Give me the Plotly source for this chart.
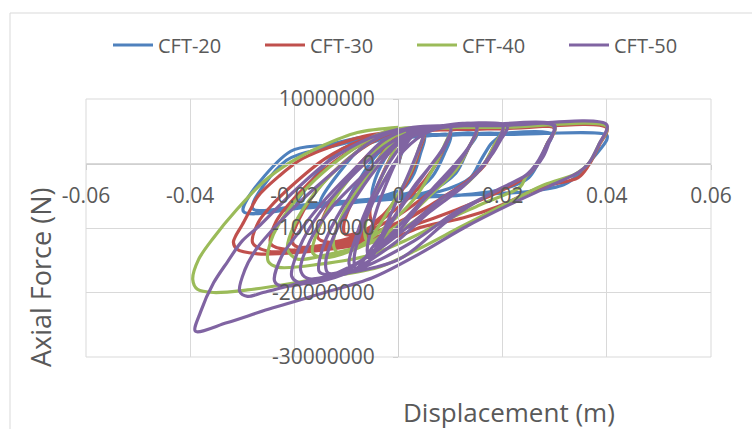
import plotly.graph_objects as go

# ---- data: (displacement m, axial force N) ----
cft20_points = [
    (0.0, 0.0),
    (0.002, 3.8e6), (0.005, 4.3e6), (0.0042, 1.5e6), (0.003, -1.5e6), (0.001, -3.8e6),
    (-0.002, -4.8e6), (-0.005, -5.2e6), (-0.0045, -2.5e6), (-0.002, 1.5e6), (0.001, 3.8e6),
    (0.006, 4.3e6), (0.010, 4.4e6), (0.0088, 1.5e6), (0.0065, -2.0e6), (0.003, -4.3e6),
    (-0.003, -5.2e6), (-0.0095, -5.9e6), (-0.0075, -2.5e6), (-0.004, 1.5e6), (0.0, 3.8e6),
    (0.008, 4.4e6), (0.015, 4.5e6), (0.0135, 2.5e6), (0.011, -1.5e6), (0.006, -4.3e6),
    (0.0, -5.2e6), (-0.008, -5.9e6), (-0.015, -6.3e6), (-0.011, -1.0e6), (-0.007, 2.5e6),
    (-0.002, 4.0e6), (0.002, 4.3e6),
    (0.010, 4.4e6), (0.0195, 4.5e6), (0.0177, 3.0e6), (0.0158, 0.5e6), (0.0138, -2.2e6),
    (0.008, -4.3e6), (0.002, -5.0e6), (-0.008, -5.8e6), (-0.0195, -6.6e6), (-0.0155, -1.5e6),
    (-0.011, 2.2e6), (-0.005, 3.8e6), (0.0, 4.3e6),
    (0.015, 4.5e6), (0.0295, 4.5e6), (0.0283, 2.5e6), (0.0268, 0.0), (0.025, -2.2e6),
    (0.020, -4.0e6), (0.012, -4.9e6), (0.003, -5.3e6), (-0.008, -6.0e6), (-0.018, -6.8e6),
    (-0.0298, -7.4e6), (-0.0207, 1.9e6), (-0.0136, 2.9e6), (-0.0073, 4.0e6), (0.0, 4.4e6),
    (0.020, 4.5e6), (0.040, 4.4e6), (0.040, 3.7e6), (0.0375, 1.0e6), (0.035, -1.4e6),
    (0.0317, -3.3e6), (0.0253, -4.3e6), (0.0157, -4.8e6), (0.003, -5.1e6), (-0.008, -5.7e6),
    (-0.018, -6.4e6), (-0.028, -7.0e6), (-0.0215, 0.5e6), (-0.0136, 2.5e6), (-0.006, 3.8e6),
    (0.0, 4.3e6),
]

cft30_points = [
    (0.0, 0.0),
    (0.002, 4.5e6), (0.005, 5.0e6), (0.004, 2.0e6), (0.0025, -1.5e6), (0.0, -5.0e6),
    (-0.003, -8.0e6), (-0.005, -9.0e6), (-0.0055, -7.5e6), (-0.004, -3.5e6), (-0.0015, 1.0e6),
    (0.001, 4.5e6),
    (0.006, 5.1e6), (0.010, 5.2e6), (0.0088, 2.5e6), (0.0065, -1.0e6), (0.003, -4.5e6),
    (-0.002, -8.0e6), (-0.007, -10.5e6), (-0.0102, -11.0e6), (-0.0105, -9.5e6), (-0.008, -4.5e6),
    (-0.004, 0.5e6), (0.0, 4.5e6),
    (0.008, 5.2e6), (0.015, 5.3e6), (0.0135, 2.5e6), (0.011, -1.0e6), (0.006, -4.5e6),
    (0.0, -8.0e6), (-0.008, -11.2e6), (-0.0135, -12.2e6), (-0.0155, -11.5e6), (-0.014, -7.5e6),
    (-0.010, -2.5e6), (-0.005, 2.0e6), (0.0, 4.8e6),
    (0.010, 5.2e6), (0.020, 5.3e6), (0.0185, 3.0e6), (0.0165, 0.0), (0.0135, -2.5e6),
    (0.008, -5.5e6), (0.002, -8.5e6), (-0.006, -11.3e6), (-0.014, -12.6e6), (-0.0195, -12.9e6),
    (-0.0205, -12.0e6), (-0.019, -8.5e6), (-0.015, -3.5e6), (-0.010, 0.5e6), (-0.004, 3.8e6),
    (0.0, 5.0e6),
    (0.010, 5.3e6), (0.020, 5.3e6), (0.0187, 2.8e6), (0.0165, -0.3e6), (0.012, -3.5e6),
    (0.005, -7.0e6), (-0.004, -10.5e6), (-0.014, -12.8e6), (-0.021, -13.4e6), (-0.0245, -12.5e6),
    (-0.0235, -9.0e6), (-0.019, -4.5e6), (-0.012, 0.5e6), (-0.005, 3.8e6), (0.0, 5.0e6),
    (0.015, 5.3e6), (0.030, 5.4e6), (0.0285, 3.0e6), (0.0268, 0.0), (0.0245, -2.0e6),
    (0.019, -4.5e6), (0.011, -7.2e6), (0.002, -9.8e6), (-0.008, -12.2e6), (-0.018, -13.3e6),
    (-0.025, -13.6e6), (-0.028, -12.3e6), (-0.0269, -9.1e6), (-0.0246, -6.7e6), (-0.0207, -3.6e6),
    (-0.014, 0.8e6), (-0.007, 3.6e6), (0.0, 5.0e6),
    (0.020, 5.4e6), (0.040, 5.5e6), (0.0385, 2.8e6), (0.0365, -0.3e6), (0.0345, -2.2e6),
    (0.0273, -3.7e6), (0.019, -6.7e6), (0.0125, -8.4e6), (0.0042, -9.9e6), (0.0, -11.2e6),
    (-0.0098, -12.9e6), (-0.0194, -13.8e6), (-0.027, -14.0e6), (-0.031, -13.3e6), (-0.0317, -12.2e6),
    (-0.0313, -11.3e6), (-0.030, -9.5e6), (-0.0284, -7.1e6), (-0.027, -5.1e6), (-0.023, -2.0e6),
    (-0.0188, 0.6e6), (-0.013, 2.6e6), (-0.0067, 4.2e6), (0.0, 5.1e6),
]

cft40_points = [
    (0.0, 0.0),
    (0.002, 4.8e6), (0.005, 5.3e6), (0.004, 2.5e6), (0.0022, -1.5e6), (-0.001, -6.0e6),
    (-0.004, -10.0e6), (-0.006, -12.0e6), (-0.0065, -10.5e6), (-0.005, -5.5e6), (-0.002, 0.0),
    (0.001, 4.5e6),
    (0.006, 5.4e6), (0.010, 5.5e6), (0.0088, 2.8e6), (0.0065, -1.0e6), (0.003, -5.5e6),
    (-0.002, -9.5e6), (-0.008, -13.0e6), (-0.0115, -14.0e6), (-0.0125, -12.5e6), (-0.0105, -7.5e6),
    (-0.006, -2.0e6), (-0.002, 2.5e6), (0.002, 5.0e6),
    (0.008, 5.5e6), (0.015, 5.6e6), (0.0135, 2.5e6), (0.011, -1.0e6), (0.006, -5.0e6),
    (0.0, -9.5e6), (-0.008, -13.2e6), (-0.0145, -14.6e6), (-0.0165, -13.8e6), (-0.015, -9.5e6),
    (-0.011, -4.0e6), (-0.005, 1.5e6), (0.001, 5.0e6),
    (0.010, 5.5e6), (0.020, 5.6e6), (0.0185, 3.0e6), (0.0165, 0.0), (0.0135, -2.8e6),
    (0.008, -6.0e6), (0.002, -9.5e6), (-0.006, -12.5e6), (-0.014, -14.2e6), (-0.0195, -14.8e6),
    (-0.0213, -13.3e6), (-0.020, -9.5e6), (-0.016, -4.5e6), (-0.010, 0.5e6), (-0.004, 4.0e6),
    (0.0, 5.3e6),
    (0.015, 5.6e6), (0.030, 5.6e6), (0.0285, 3.0e6), (0.0268, 0.0), (0.0245, -2.0e6),
    (0.0234, -3.6e6), (0.0157, -6.4e6), (0.0094, -8.7e6), (0.0017, -11.8e6), (-0.006, -14.3e6),
    (-0.015, -15.6e6), (-0.023, -16.1e6), (-0.025, -15.2e6), (-0.0245, -12.0e6), (-0.021, -7.0e6),
    (-0.016, -2.5e6), (-0.010, 1.5e6), (-0.004, 4.5e6), (0.0, 5.4e6),
    (0.020, 5.6e6), (0.040, 5.7e6), (0.0385, 3.0e6), (0.0365, 0.0), (0.034, -1.6e6),
    (0.028, -3.3e6), (0.020, -6.5e6), (0.012, -9.8e6), (0.004, -13.2e6), (-0.0035, -16.0e6),
    (-0.013, -17.5e6), (-0.0207, -18.6e6), (-0.029, -19.6e6), (-0.0355, -20.0e6), (-0.0386, -19.5e6),
    (-0.0395, -18.0e6), (-0.0384, -14.9e6), (-0.0355, -11.5e6), (-0.031, -7.1e6), (-0.026, -2.9e6),
    (-0.0207, 0.2e6), (-0.015, 2.6e6), (-0.0079, 4.8e6), (0.0, 5.6e6),
]

cft50_points = [
    (0.0, 0.0),
    (0.002, 5.0e6), (0.005, 5.4e6), (0.004, 2.5e6), (0.002, -1.5e6), (-0.001, -7.0e6),
    (-0.004, -12.5e6), (-0.0055, -14.8e6), (-0.006, -13.5e6), (-0.0045, -8.0e6), (-0.002, -2.5e6),
    (0.001, 2.5e6), (0.004, 5.2e6),
    (0.010, 5.6e6), (0.009, 3.0e6), (0.0065, 0.0), (0.003, -3.5e6), (-0.001, -8.5e6),
    (-0.005, -13.0e6), (-0.0086, -16.7e6), (-0.0095, -15.5e6), (-0.008, -11.0e6), (-0.005, -5.0e6),
    (-0.0015, 0.5e6), (0.003, 4.8e6), (0.008, 5.7e6),
    (0.010, 5.7e6), (0.0088, 2.5e6), (0.006, -0.5e6), (0.002, -5.0e6), (-0.002, -10.0e6),
    (-0.006, -15.5e6), (-0.0082, -16.2e6), (-0.0085, -14.5e6), (-0.0065, -9.0e6), (-0.003, -3.0e6),
    (0.001, 2.0e6), (0.006, 5.0e6),
    (0.0138, 6.0e6), (0.015, 5.7e6), (0.0138, 3.0e6), (0.011, 0.0), (0.007, -3.5e6),
    (0.002, -8.0e6), (-0.004, -13.0e6), (-0.010, -16.5e6), (-0.0135, -17.0e6), (-0.014, -15.5e6),
    (-0.012, -10.5e6), (-0.008, -5.0e6), (-0.003, 0.5e6), (0.002, 4.5e6), (0.008, 5.8e6),
    (0.015, 5.9e6), (0.0135, 2.5e6), (0.010, -1.5e6), (0.005, -5.5e6), (0.0, -10.5e6),
    (-0.007, -15.0e6), (-0.0125, -17.2e6), (-0.0152, -16.8e6), (-0.0145, -13.0e6), (-0.0105, -6.5e6),
    (-0.005, -0.5e6), (0.001, 4.0e6), (0.008, 5.8e6),
    (0.0209, 5.8e6), (0.0195, 3.5e6), (0.0182, 1.7e6), (0.0138, -2.5e6), (0.008, -5.6e6),
    (0.0023, -9.5e6), (-0.005, -14.0e6), (-0.013, -17.3e6), (-0.0175, -17.8e6), (-0.0188, -16.5e6),
    (-0.017, -12.0e6), (-0.013, -7.0e6), (-0.007, -2.0e6), (-0.001, 2.5e6), (0.006, 5.2e6),
    (0.013, 5.9e6),
    (0.020, 5.9e6), (0.0188, 3.0e6), (0.0165, 0.0), (0.0125, -3.5e6), (0.006, -7.5e6),
    (-0.001, -12.5e6), (-0.010, -17.0e6), (-0.0185, -18.6e6), (-0.0205, -17.5e6), (-0.019, -13.0e6),
    (-0.015, -7.5e6), (-0.009, -2.0e6), (-0.002, 3.0e6), (0.005, 5.5e6), (0.015, 5.9e6),
    (0.0298, 5.8e6), (0.0288, 3.0e6), (0.0278, 1.1e6), (0.0253, -1.4e6), (0.019, -4.2e6),
    (0.011, -7.5e6), (0.003, -12.0e6), (-0.008, -16.5e6), (-0.018, -18.6e6), (-0.0225, -19.0e6),
    (-0.0238, -18.2e6), (-0.0225, -14.5e6), (-0.019, -10.5e6), (-0.014, -5.5e6), (-0.008, -0.5e6),
    (-0.003, 3.5e6), (0.003, 5.5e6), (0.015, 5.9e6),
    (0.030, 5.9e6), (0.0285, 3.0e6), (0.0265, 0.0), (0.0245, -1.8e6), (0.018, -4.5e6),
    (0.010, -8.5e6), (0.0, -14.9e6), (-0.0163, -18.0e6), (-0.026, -20.0e6), (-0.029, -20.6e6),
    (-0.0305, -19.8e6), (-0.0295, -16.5e6), (-0.0275, -13.5e6), (-0.025, -11.0e6), (-0.019, -6.0e6),
    (-0.012, -1.0e6), (-0.005, 3.5e6), (0.002, 5.5e6), (0.020, 5.9e6),
    (0.040, 6.0e6), (0.0385, 3.0e6), (0.0365, 0.0), (0.0345, -1.4e6), (0.029, -3.5e6),
    (0.021, -6.5e6), (0.0125, -10.0e6), (0.004, -14.0e6), (-0.005, -17.7e6), (-0.015, -20.2e6),
    (-0.025, -22.6e6), (-0.033, -24.7e6), (-0.039, -26.0e6), (-0.038, -23.0e6), (-0.0355, -18.5e6),
    (-0.0328, -15.2e6), (-0.030, -12.0e6), (-0.0265, -9.5e6), (-0.0207, -4.8e6), (-0.013, 0.6e6),
    (-0.0054, 4.0e6), (0.0, 5.3e6),
]

series_names = ["CFT-20", "CFT-30", "CFT-40", "CFT-50"]
series_colors = ["#4F81BD", "#C0504D", "#9BBB59", "#8064A2"]

x_tick_vals = [-0.06, -0.04, -0.02, 0, 0.02, 0.04, 0.06]
x_tick_text = ["-0.06", "-0.04", "-0.02", "0", "0.02", "0.04", "0.06"]
y_tick_vals = [10000000, 0, -10000000, -20000000, -30000000]
y_tick_text = ["10000000", "0", "-10000000", "-20000000", "-30000000"]

x_title = "Displacement (m)"
y_title = "Axial Force (N)"

FONT = "Open Sans"
TXT = "#595959"
GRID = "#d9d9d9"

fig = go.Figure()
for name, color, pts in zip(series_names, series_colors,
                            [cft20_points, cft30_points, cft40_points, cft50_points]):
    xs, ys = zip(*pts)
    fig.add_trace(go.Scatter(
        x=list(xs), y=list(ys), mode="lines", name=name,
        line=dict(color=color, width=3.2, shape="spline", smoothing=0.9),
    ))

W, H = 752, 429
L, R, T, B = 86, 41, 99, 72
pw, ph = W - L - R, H - T - B

def px(xp):
    return (xp - L) / pw

def py(yp):
    return (H - B - yp) / ph

fig.update_layout(
    width=W, height=H,
    margin=dict(l=L, r=R, t=T, b=B, pad=0, autoexpand=False),
    paper_bgcolor="white", plot_bgcolor="white",
    font=dict(family=FONT, color=TXT, size=20),
    showlegend=True,
    legend=dict(orientation="h", x=px(108), xanchor="left", y=py(45), yanchor="middle",
                font=dict(size=20, color=TXT, family=FONT), bgcolor="rgba(0,0,0,0)",
                entrywidth=97, entrywidthmode="pixels", itemwidth=40),
    xaxis=dict(range=[-0.06, 0.06], tickvals=x_tick_vals, ticktext=x_tick_text,
               anchor="free", position=py(164), showgrid=True, gridcolor=GRID, gridwidth=1,
               zeroline=False, showline=True, linecolor="#d0d0d0", linewidth=1,
               ticks="outside", ticklen=5, tickcolor="#d0d0d0",
               ticklabelstandoff=8, tickfont=dict(size=21, color=TXT, family=FONT)),
    yaxis=dict(range=[-30000000, 10000000], tickvals=y_tick_vals, ticktext=y_tick_text,
               anchor="free", position=px(398), showgrid=True, gridcolor=GRID, gridwidth=1,
               zeroline=False, showline=True, linecolor="#d0d0d0", linewidth=1,
               ticks="outside", ticklen=5, tickcolor="#d0d0d0",
               ticklabelstandoff=14, tickfont=dict(size=21, color=TXT, family=FONT)),
    shapes=[
        dict(type="rect", xref="paper", yref="paper", x0=0, x1=1, y0=0, y1=1,
             line=dict(color=GRID, width=1), layer="below"),
        dict(type="rect", xref="paper", yref="paper", x0=px(10), x1=px(790), y0=py(470), y1=py(13),
             line=dict(color=GRID, width=1), layer="below"),
    ],
    annotations=[
        dict(text=x_title, xref="paper", yref="paper", x=px(509), y=py(412),
             xanchor="center", yanchor="middle", showarrow=False,
             font=dict(size=26, color=TXT, family=FONT)),
        dict(text=y_title, xref="paper", yref="paper", x=px(40), y=py(278),
             xanchor="center", yanchor="middle", showarrow=False, textangle=-90,
             font=dict(size=27, color=TXT, family=FONT)),
    ],
)

fig.write_html("out.html", config={"displayModeBar": False},
               post_script="document.body.style.margin='0px';")
